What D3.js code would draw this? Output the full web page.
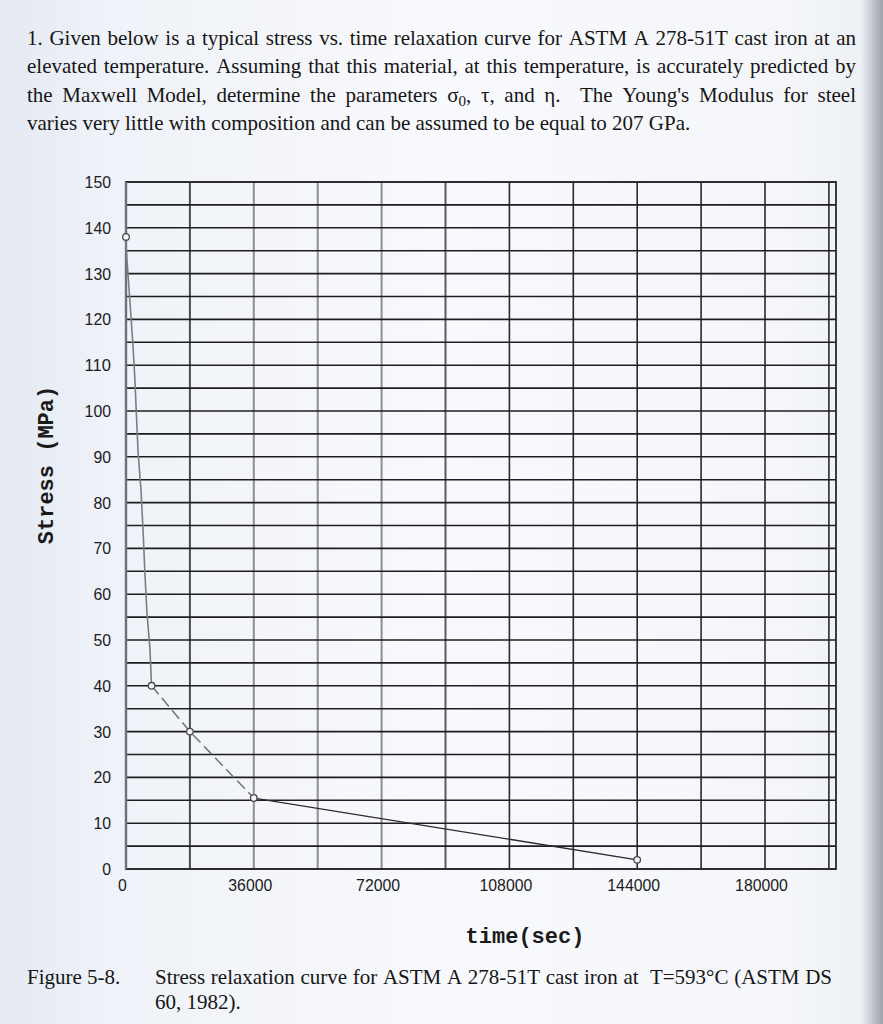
<!DOCTYPE html>
<html>
<head>
<meta charset="utf-8">
<script src="https://cdn.jsdelivr.net/npm/d3@7"></script>
<style>
  html, body { margin: 0; padding: 0; background: #f4f6fa; }
  svg { display: block; }
</style>
</head>
<body>
<svg id="page" width="883" height="1024"></svg>
<script>
// ---------- data ----------
const curveTime   = [0, 100, 1100, 1900, 2500, 3000, 3400, 4200, 4800, 5300, 5900, 6750, 7200, 18000, 36000, 144000];
const curveStress = [138, 135, 124, 115, 107, 98, 91, 83, 74, 65, 56, 48, 40, 30, 15.5, 2];
const markerTime   = [0, 7200, 18000, 36000, 144000];
const markerStress = [138, 40, 30, 15.5, 2];
const yTickLabels = [0, 10, 20, 30, 40, 50, 60, 70, 80, 90, 100, 110, 120, 130, 140, 150];
const xTickLabels = [0, 36000, 72000, 108000, 144000, 180000];
const yGridValues = d3.range(0, 151, 5);
const xGridValues = d3.range(18000, 198001, 18000);

const paragraphLines = [
  "1. Given below is a typical stress vs. time relaxation curve for ASTM A 278-51T cast iron at an",
  "elevated temperature. Assuming that this material, at this temperature, is accurately predicted by",
  "the Maxwell Model, determine the parameters σ_0, τ, and η.  The Young's Modulus for steel",
  "varies very little with composition and can be assumed to be equal to 207 GPa."
];
const captionLabel = "Figure 5-8.";
const captionLines = [
  "Stress relaxation curve for ASTM A 278-51T cast iron at  T=593°C (ASTM DS",
  "60, 1982)."
];
const xTitle = "time(sec)";
const yTitle = "Stress (MPa)";

// ---------- page ----------
const svg = d3.select("#page");
const defs = svg.append("defs");
const bg = defs.append("linearGradient").attr("id", "paper").attr("x1", 0).attr("x2", 1).attr("y1", 0).attr("y2", 0);
[[0, "#e4e9f2"], [0.12, "#eff2f8"], [0.5, "#f8f9fc"], [0.9, "#f4f6fa"], [0.975, "#edf0f4"],
 [0.985, "#ccd1d7"], [1, "#9ca2a9"]].forEach(([o, c]) => bg.append("stop").attr("offset", o).attr("stop-color", c));
svg.append("rect").attr("width", 883).attr("height", 1024).attr("fill", "url(#paper)");

const serif = "'Liberation Serif', 'Times New Roman', serif";
const ink = "#161616";

// justified text helper
function drawLine(str, x0, baseline, width, justify, size) {
  const g = svg.append("g").attr("font-family", serif).attr("font-size", size).attr("fill", ink);
  const tokens = str.split(" ");
  const words = [];
  const gaps = [];
  let pendingGap = 0;
  tokens.forEach(t => {
    if (t === "") { pendingGap += 1; return; }
    if (words.length) gaps.push(1 + pendingGap);
    pendingGap = 0;
    words.push(t);
  });
  const nodes = words.map(w => {
    const t = g.append("text").attr("y", baseline);
    if (w.includes("_")) {
      const [a, b] = w.split("_");
      const m = b.match(/^(\w+)(.*)$/);
      t.append("tspan").text(a);
      t.append("tspan").attr("dy", 4).attr("font-size", size * 0.72).text(m[1]);
      t.append("tspan").attr("dy", -4).text(m[2]);
    } else {
      t.text(w);
    }
    return t;
  });
  const lens = nodes.map(n => n.node().getComputedTextLength());
  const total = d3.sum(lens);
  const gapUnits = d3.sum(gaps);
  const spaceW = size * 0.25;
  let unit = justify ? (width - total) / gapUnits : spaceW;
  let squeeze = 1;
  if (justify && unit < size * 0.18) {
    unit = size * 0.18;
    squeeze = (width - unit * gapUnits) / total;
  }
  let x = x0;
  nodes.forEach((n, i) => {
    const L = lens[i] * squeeze;
    n.attr("x", x);
    if (squeeze !== 1) n.attr("textLength", L).attr("lengthAdjust", "spacingAndGlyphs");
    x += L + (i < gaps.length ? gaps[i] * unit : 0);
  });
}

const paraBase = [45, 73, 102, 130];
paragraphLines.forEach((l, i) => drawLine(l, 27, paraBase[i], 829, i < 3, 21));

drawLine(captionLabel, 27, 984, 0, false, 21);
drawLine(captionLines[0], 155, 984, 677, true, 21);
drawLine(captionLines[1], 155, 1009, 0, false, 21);

// ---------- chart ----------
const x = d3.scaleLinear().domain([0, 200000]).range([126, 836]);
const y = d3.scaleLinear().domain([0, 150]).range([869, 182]);

const chart = svg.append("g");

// vertical grid
chart.append("g").selectAll("line").data(xGridValues).join("line")
  .attr("x1", d => x(d)).attr("x2", d => x(d))
  .attr("y1", y(150)).attr("y2", y(0))
  .attr("stroke", d => d <= 18000 ? "#4a4c50" : (d <= 72000 ? "#8c8f94" : (d <= 90000 ? "#5a5c60" : "#2a2a2a")))
  .attr("stroke-width", d => d <= 90000 ? 2 : 1.6);

// horizontal grid
chart.append("g").selectAll("line").data(yGridValues).join("line")
  .attr("x1", x(0)).attr("x2", x(200000))
  .attr("y1", d => y(d)).attr("y2", d => y(d))
  .attr("stroke", "#1e1e1e").attr("stroke-width", 1.6);

// frame
chart.append("rect")
  .attr("x", x(0)).attr("y", y(150))
  .attr("width", x(200000) - x(0)).attr("height", y(0) - y(150))
  .attr("fill", "none").attr("stroke", "#2a2a2a").attr("stroke-width", 1.8);
chart.append("line").attr("x1", x(0)).attr("x2", x(0)).attr("y1", y(150)).attr("y2", y(0))
  .attr("stroke", "#6e7176").attr("stroke-width", 2.4);

// axes (tick labels only, using d3 axes)
const tickFont = "'Liberation Sans Narrow', 'Liberation Sans', Arial, sans-serif";
const yAxis = chart.append("g").attr("transform", `translate(${x(0) - 15},0)`)
  .call(d3.axisLeft(y).tickValues(yTickLabels).tickSize(0).tickPadding(0).tickFormat(d3.format("d")));
const xAxis = chart.append("g").attr("transform", `translate(-4,${y(0) + 8})`)
  .call(d3.axisBottom(x).tickValues(xTickLabels).tickSize(0).tickPadding(0).tickFormat(d3.format("d")));
[yAxis, xAxis].forEach(a => {
  a.select(".domain").remove();
  a.selectAll("text")
    .attr("font-family", tickFont).attr("font-size", 17).attr("fill", "#1c1c1c")
    .attr("textLength", function () { return this.textContent.length * 8.8; })
    .attr("lengthAdjust", "spacingAndGlyphs");
});
xAxis.selectAll("text").attr("dy", "0.85em");

// curve
const pts = curveTime.map((t, i) => [t, curveStress[i]]);
const line = d3.line().x(d => x(d[0])).y(d => y(d[1]));
const i40 = curveTime.indexOf(7200);
const i15 = curveTime.indexOf(36000);
chart.append("path").datum(pts.slice(0, i40 + 1)).attr("d", line)
  .attr("fill", "none").attr("stroke", "#7a7d82").attr("stroke-width", 1.6);
chart.append("path").datum(pts.slice(i40, i15 + 1)).attr("d", line)
  .attr("fill", "none").attr("stroke", "#6f7277").attr("stroke-width", 1.5)
  .attr("stroke-dasharray", "11,5");
chart.append("path").datum(pts.slice(i15)).attr("d", line)
  .attr("fill", "none").attr("stroke", "#2a2a2a").attr("stroke-width", 1.3);

// markers
chart.append("g").selectAll("circle").data(markerTime).join("circle")
  .attr("cx", d => x(d)).attr("cy", (d, i) => y(markerStress[i])).attr("r", 3.3)
  .attr("fill", "#f4f6fa").attr("stroke", "#4a4a4a").attr("stroke-width", 1.3);

// titles
const monoBold = "'Liberation Mono', 'DejaVu Sans Mono', monospace";
svg.append("text").attr("x", 525).attr("y", 943)
  .attr("text-anchor", "middle").attr("font-family", monoBold).attr("font-weight", "bold")
  .attr("font-size", 22).attr("fill", "#1a1a1a").text(xTitle);
svg.append("text").attr("transform", "translate(53,465) rotate(-90)")
  .attr("text-anchor", "middle").attr("font-family", monoBold).attr("font-weight", "bold")
  .attr("font-size", 22).attr("fill", "#1a1a1a").text(yTitle);
</script>
</body>
</html>
